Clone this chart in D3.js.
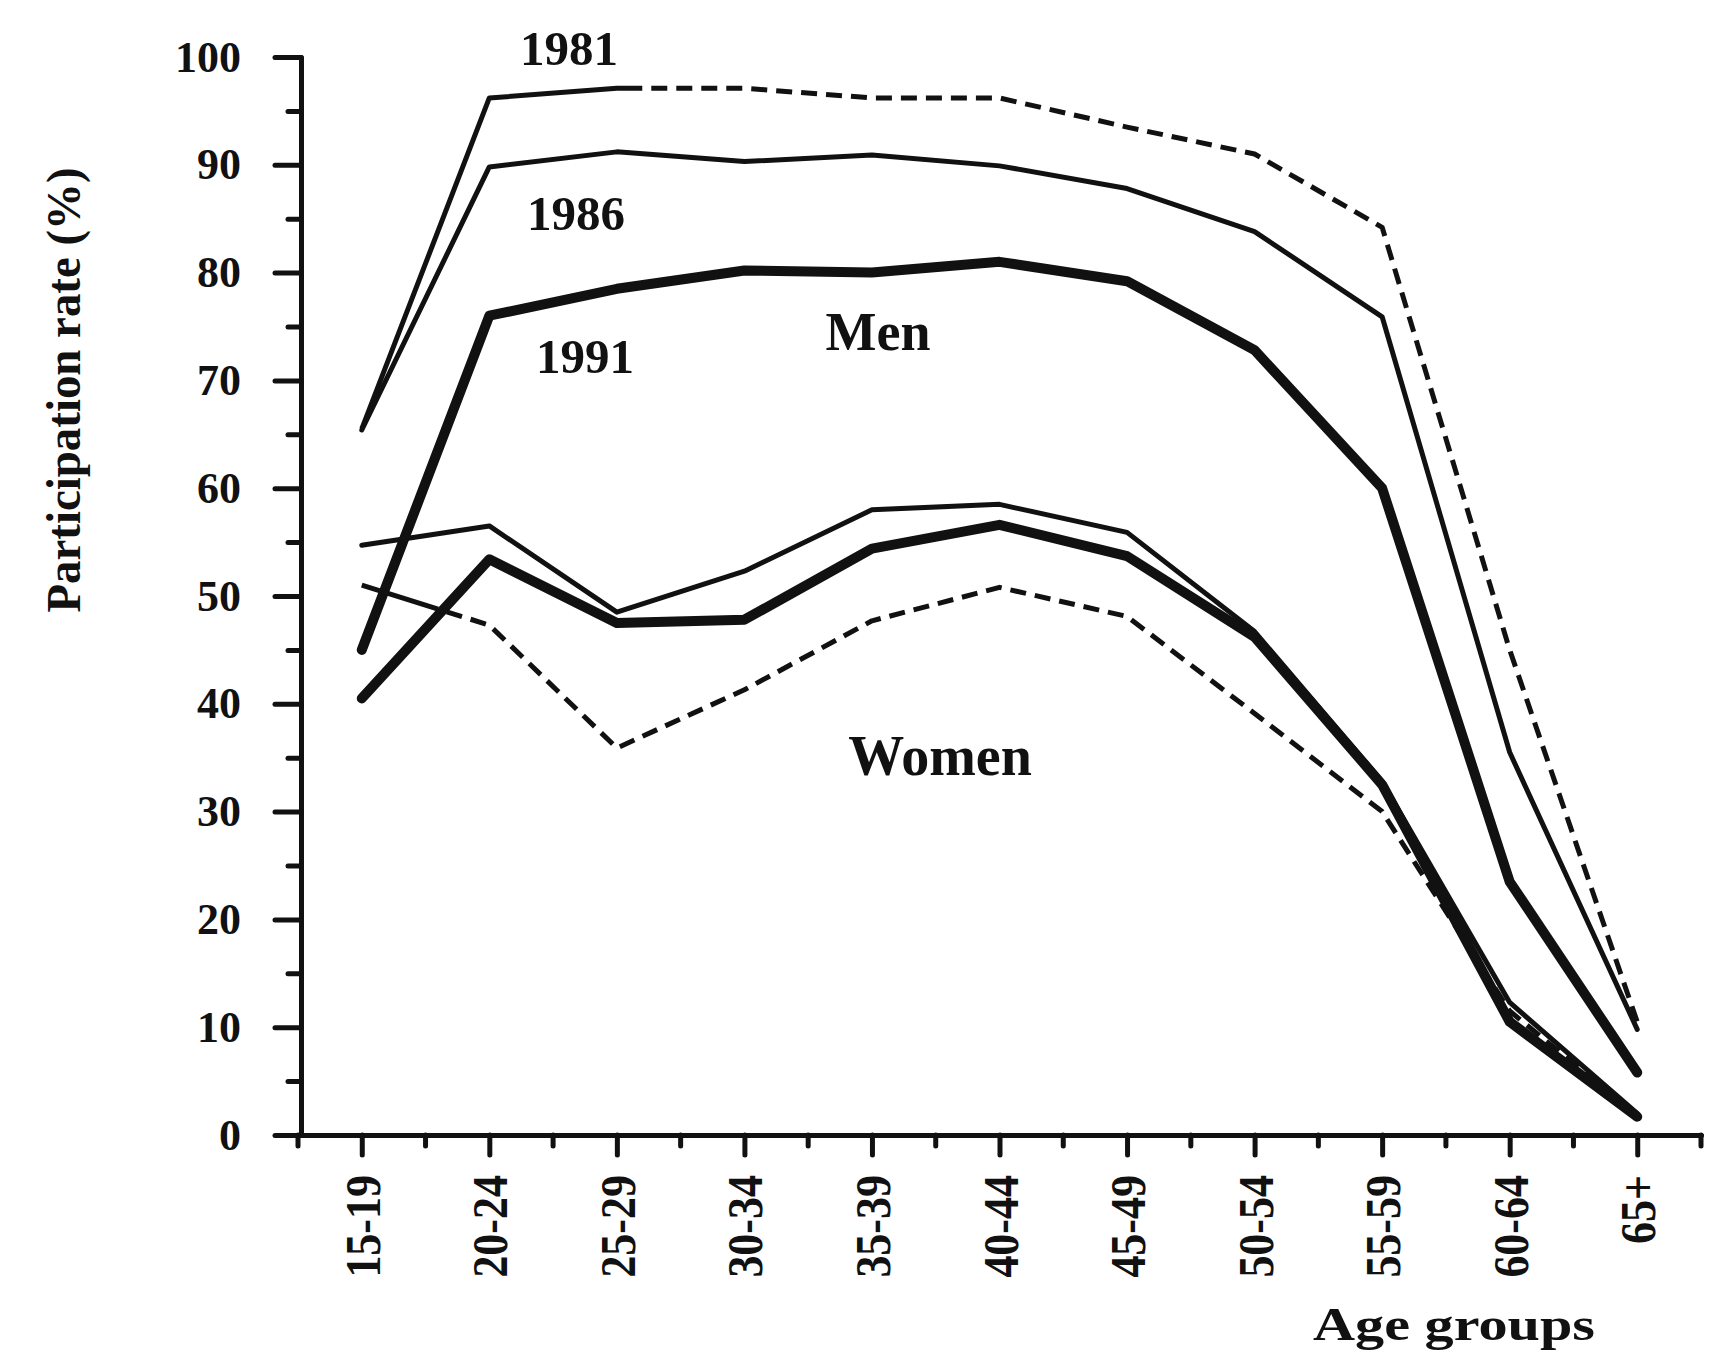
<!DOCTYPE html>
<html>
<head>
<meta charset="utf-8">
<script src="https://cdn.jsdelivr.net/npm/d3@7/dist/d3.min.js"></script>
<style>
  body { margin: 0; background: #fff; }
  text { font-family: "Liberation Serif", "Times New Roman", serif; fill: #111; }
</style>
</head>
<body>
<svg width="1725" height="1357"></svg>
<script>
var ageGroups = ["15-19", "20-24", "25-29", "30-34", "35-39", "40-44", "45-49", "50-54", "55-59", "60-64", "65+"];
var yTicks = [0, 10, 20, 30, 40, 50, 60, 70, 80, 90, 100];
var yMinorTicks = [5, 15, 25, 35, 45, 55, 65, 75, 85, 95];

// participation rate (%) by age group
var men1981 = [65.5, 96.2, 97.1, 97.1, 96.2, 96.2, 93.5, 91.0, 84.2, 45.0, 10.5];
var men1986 = [65.4, 89.8, 91.2, 90.3, 90.9, 89.9, 87.8, 83.8, 75.9, 35.5, 9.8];
var men1991 = [45.0, 76.0, 78.5, 80.2, 80.0, 81.0, 79.2, 72.8, 60.0, 23.5, 5.8];
var women1981 = [51.0, 47.3, 35.9, 41.3, 47.7, 50.8, 48.1, 39.1, 30.0, 11.5, 1.8];
var women1986 = [54.7, 56.5, 48.5, 52.3, 58.0, 58.5, 55.9, 46.7, 32.8, 12.3, 2.0];
var women1991 = [40.5, 53.4, 47.5, 47.8, 54.4, 56.6, 53.7, 46.2, 32.5, 10.5, 1.7];

var svg = d3.select("svg");

var x = d3.scalePoint().domain(ageGroups).range([298, 1701]).padding(0.5);
var y = d3.scaleLinear().domain([0, 100]).range([1135, 57]);

var lineGen = d3.line()
    .x(function (d, i) { return x(ageGroups[i]); })
    .y(function (d) { return y(d); });

// dashed line that starts with a solid stretch, like the printed one
var leadDash = function (len, lead) {
    var arr = [lead];
    var t = lead;
    while (t < len + 30) {
        arr.push(9, 16);
        t += 25;
    }
    return arr.join(",");
};

var series = [
    { values: men1981, width: 5, lead: 508, dashed: true },
    { values: men1986, width: 5 },
    { values: men1991, width: 10 },
    { values: women1981, width: 5, lead: 80, dashed: true },
    { values: women1986, width: 5 },
    { values: women1991, width: 10 }
];

var draw_axes = function () {
    var yAxis = svg.append("g")
        .attr("transform", "translate(301,0)")
        .call(d3.axisLeft(y).tickValues(yTicks).tickSize(26).tickSizeOuter(0).tickPadding(34));
    yAxis.selectAll("text")
        .attr("style", "font-size: 44px; font-weight: bold; font-family: 'Liberation Serif', serif;");

    var yMinor = svg.append("g")
        .attr("transform", "translate(301,0)")
        .call(d3.axisLeft(y).tickValues(yMinorTicks).tickSize(13).tickFormat(""));
    yMinor.select(".domain").remove();

    var xAxis = svg.append("g")
        .attr("transform", "translate(0,1135)")
        .call(d3.axisBottom(x).tickSize(20).tickSizeOuter(0));
    xAxis.selectAll("text")
        .attr("transform", "rotate(-90) scale(0.88,1)")
        .attr("text-anchor", "end")
        .attr("x", -40 / 0.88)
        .attr("y", 0)
        .attr("dy", "0.35em")
        .attr("style", "font-size: 50px; font-weight: bold; font-family: 'Liberation Serif', serif;");

    // small ticks between the age groups
    var half = x.step() / 2;
    var minorX = [x(ageGroups[0]) - half].concat(ageGroups.map(function (g) { return x(g) + half; }));
    svg.append("g").selectAll("line").data(minorX).enter()
        .append("line")
        .attr("x1", function (d) { return d; })
        .attr("x2", function (d) { return d; })
        .attr("y1", 1135)
        .attr("y2", 1146);

    svg.selectAll(".domain, .tick line, g > line")
        .attr("stroke", "#111")
        .attr("stroke-width", 5)
        .attr("stroke-linecap", "round");
};

var plot_lines = function () {
    svg.append("g").selectAll("path").data(series).enter()
        .append("path")
        .attr("d", function (s) { return lineGen(s.values); })
        .attr("fill", "none")
        .attr("stroke", "#111")
        .attr("stroke-width", function (s) { return s.width; })
        .attr("stroke-linejoin", "round")
        .attr("stroke-linecap", "round")
        .each(function (s) {
            if (s.dashed) {
                d3.select(this)
                  .attr("stroke-linecap", "butt")
                  .attr("stroke-dasharray", leadDash(this.getTotalLength(), s.lead));
            }
        });
};

var add_labels = function () {
    svg.append("text").text("1981")
        .attr("style", "font-size: 49px; font-weight: bold; text-anchor: middle;")
        .attr("x", 569).attr("y", 65);
    svg.append("text").text("1986")
        .attr("style", "font-size: 49px; font-weight: bold; text-anchor: middle;")
        .attr("x", 576).attr("y", 230);
    svg.append("text").text("1991")
        .attr("style", "font-size: 49px; font-weight: bold; text-anchor: middle;")
        .attr("x", 585).attr("y", 373);

    svg.append("text").text("Men")
        .attr("style", "font-size: 54px; font-weight: bold; text-anchor: middle;")
        .attr("x", 878).attr("y", 350);
    svg.append("text").text("Women")
        .attr("style", "font-size: 56px; font-weight: bold; text-anchor: middle;")
        .attr("x", 940).attr("y", 775);

    svg.append("text").text("Age groups")
        .attr("style", "font-size: 46px; font-weight: bold;")
        .attr("x", 1313).attr("y", 1340)
        .attr("textLength", 282)
        .attr("lengthAdjust", "spacingAndGlyphs");

    svg.append("text").text("Participation rate (%)")
        .attr("style", "font-size: 48px; font-weight: bold; text-anchor: middle;")
        .attr("transform", "translate(80,390) rotate(-90)")
        .attr("textLength", 445)
        .attr("lengthAdjust", "spacingAndGlyphs");
};

draw_axes();
plot_lines();
add_labels();
</script>
</body>
</html>
